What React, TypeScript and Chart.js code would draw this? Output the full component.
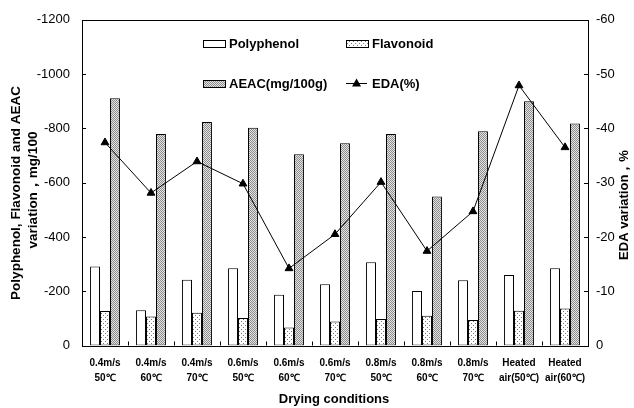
import React, { useEffect, useRef } from "react";
import { Chart, registerables } from "chart.js";

Chart.register(...registerables);

const categories: string[][] = [
  ["0.4m/s", "50℃"],
  ["0.4m/s", "60℃"],
  ["0.4m/s", "70℃"],
  ["0.6m/s", "50℃"],
  ["0.6m/s", "60℃"],
  ["0.6m/s", "70℃"],
  ["0.8m/s", "50℃"],
  ["0.8m/s", "60℃"],
  ["0.8m/s", "70℃"],
  ["Heated", "air(50℃)"],
  ["Heated", "air(60℃)"],
];

const polyphenol = [-291, -130, -242, -285, -187, -226, -307, -201, -240, -260, -285];
const flavonoid = [-127, -107, -121, -101, -66, -88, -98, -110, -94, -128, -136];
const aeac = [-911, -779, -823, -802, -705, -745, -779, -549, -789, -900, -818];
const eda = [-37.4, -28.1, -33.9, -29.8, -14.2, -20.5, -30.1, -17.4, -24.7, -47.9, -36.5];

const leftTicks = { min: -1200, max: 0, step: 200 };
const rightTicks = { min: -60, max: 0, step: 10 };

const FONT = "'Liberation Sans', Arial, sans-serif";

function makePattern(kind: "dots" | "hatch"): CanvasPattern | string {
  const c = document.createElement("canvas");
  const g = c.getContext("2d");
  if (!g) return "#fff";
  if (kind === "dots") {
    c.width = 4;
    c.height = 4;
    g.fillStyle = "#fff";
    g.fillRect(0, 0, 4, 4);
    g.fillStyle = "#777";
    g.fillRect(1, 1, 1, 1);
    g.fillRect(3, 3, 1, 1);
  } else {
    c.width = 2;
    c.height = 2;
    g.fillStyle = "#e4e4e4";
    g.fillRect(0, 0, 2, 2);
    g.fillStyle = "#8c8c8c";
    g.fillRect(0, 0, 1, 1);
    g.fillRect(1, 1, 1, 1);
  }
  const p = g.createPattern(c, "repeat");
  return p || "#ccc";
}

export default function App() {
  const ref = useRef<HTMLCanvasElement | null>(null);

  useEffect(() => {
    if (!ref.current) return;
    const dotPat = makePattern("dots");
    const hatchPat = makePattern("hatch");

    const decor = {
      id: "decor",
      afterDraw(chart: any) {
        const ctx = chart.ctx as CanvasRenderingContext2D;
        const a = chart.chartArea;
        const yL = chart.scales.yL;
        const yR = chart.scales.yR;
        const x = chart.scales.x;
        ctx.save();
        ctx.strokeStyle = "#000";
        ctx.lineWidth = 1;
        ctx.strokeRect(Math.round(a.left) + 0.5, Math.round(a.top) + 0.5, Math.round(a.right - a.left), Math.round(a.bottom - a.top));
        // inward ticks
        ctx.beginPath();
        for (let v = leftTicks.min; v <= leftTicks.max; v += leftTicks.step) {
          const py = Math.round(yL.getPixelForValue(v)) + 0.5;
          ctx.moveTo(a.left, py);
          ctx.lineTo(a.left + 4, py);
        }
        for (let v = rightTicks.min; v <= rightTicks.max; v += rightTicks.step) {
          const py = Math.round(yR.getPixelForValue(v)) + 0.5;
          ctx.moveTo(a.right, py);
          ctx.lineTo(a.right - 4, py);
        }
        for (let i = 0; i < categories.length - 1; i++) {
          const px = Math.round((x.getPixelForValue(i) + x.getPixelForValue(i + 1)) / 2) + 0.5;
          ctx.moveTo(px, a.bottom);
          ctx.lineTo(px, a.bottom - 4);
        }
        ctx.stroke();

        // axis titles
        ctx.fillStyle = "#000";
        ctx.textAlign = "center";
        ctx.textBaseline = "middle";
        ctx.font = `bold 13.5px ${FONT}`;
        ctx.save();
        ctx.translate(16, 193);
        ctx.rotate(-Math.PI / 2);
        ctx.fillText("Polyphenol, Flavonoid and AEAC", 0, 0);
        ctx.restore();
        ctx.save();
        ctx.translate(33, 190);
        ctx.rotate(-Math.PI / 2);
        ctx.fillText("variation，mg/100", 0, 0);
        ctx.restore();
        ctx.font = `bold 13px ${FONT}`;
        ctx.save();
        ctx.translate(624, 205);
        ctx.rotate(-Math.PI / 2);
        ctx.fillText("EDA variation，%", 0, 0);
        ctx.restore();
        ctx.fillText("Drying conditions", 334, 399);

        // legend
        const ds = chart.data.datasets;
        const items = [
          { i: 0, x: 203, y: 43 },
          { i: 1, x: 346, y: 43 },
          { i: 2, x: 203, y: 83 },
          { i: 3, x: 346, y: 83 },
        ];
        ctx.textAlign = "left";
        ctx.font = `bold 13px ${FONT}`;
        for (const it of items) {
          const d = ds[it.i];
          if (d.type === "line") {
            ctx.beginPath();
            ctx.moveTo(it.x, it.y + 0.5);
            ctx.lineTo(it.x + 21, it.y + 0.5);
            ctx.stroke();
            ctx.beginPath();
            const cx = it.x + 10.5;
            ctx.moveTo(cx, it.y - 4.5);
            ctx.lineTo(cx + 4.5, it.y + 3.5);
            ctx.lineTo(cx - 4.5, it.y + 3.5);
            ctx.closePath();
            ctx.fillStyle = "#000";
            ctx.fill();
          } else {
            ctx.fillStyle = d.backgroundColor;
            ctx.fillRect(it.x, it.y - 3, 22, 7);
            ctx.strokeRect(it.x + 0.5, it.y - 2.5, 22, 7);
          }
          ctx.fillStyle = "#000";
          ctx.fillText(d.label, it.x + 26, it.y + 1);
        }
        ctx.restore();
      },
    };

    const barCommon = {
      borderColor: "#000",
      borderWidth: 1,
      borderSkipped: false,
      yAxisID: "yL",
      order: 1,
      categoryPercentage: 0.65,
      barPercentage: 1,
    };

    const chart = new Chart(ref.current, {
      type: "bar",
      data: {
        labels: categories,
        datasets: [
          { ...barCommon, type: "bar", label: "Polyphenol", data: polyphenol, backgroundColor: "#fff" },
          { ...barCommon, type: "bar", label: "Flavonoid", data: flavonoid, backgroundColor: dotPat },
          { ...barCommon, type: "bar", label: "AEAC(mg/100g)", data: aeac, backgroundColor: hatchPat },
          {
            type: "line",
            label: "EDA(%)",
            data: eda,
            yAxisID: "yR",
            order: 0,
            borderColor: "#000",
            borderWidth: 1,
            tension: 0,
            pointStyle: "triangle",
            pointRadius: 4.5,
            pointBackgroundColor: "#000",
            pointBorderColor: "#000",
            pointBorderWidth: 1,
          },
        ] as any,
      },
      options: {
        animation: false,
        responsive: true,
        maintainAspectRatio: false,
        devicePixelRatio: 1,
        layout: { padding: { top: 16, left: 0, right: 0, bottom: 0 } },
        plugins: { legend: { display: false }, tooltip: { enabled: false } },
        scales: {
          x: {
            grid: { display: false, drawTicks: false },
            border: { display: false },
            ticks: {
              color: "#000",
              font: { family: FONT, size: 10, weight: "bold", lineHeight: 1.5 },
              padding: 10,
              maxRotation: 0,
              minRotation: 0,
              autoSkip: false,
            },
            afterFit: (s: any) => {
              s.height = 62.5;
            },
          },
          yL: {
            position: "left",
            reverse: true,
            min: leftTicks.min,
            max: leftTicks.max,
            grid: { display: false, drawTicks: false },
            border: { display: false },
            ticks: {
              stepSize: leftTicks.step,
              color: "#000",
              font: { family: FONT, size: 13 },
              padding: 12,
              callback: (v: any) => String(v),
            },
            afterFit: (s: any) => {
              s.width = 82;
            },
          },
          yR: {
            position: "right",
            reverse: true,
            min: rightTicks.min,
            max: rightTicks.max,
            grid: { display: false, drawTicks: false },
            border: { display: false },
            ticks: {
              stepSize: rightTicks.step,
              color: "#000",
              font: { family: FONT, size: 13 },
              padding: 8,
              callback: (v: any) => String(v),
            },
            afterFit: (s: any) => {
              s.width = 46;
            },
          },
        },
      } as any,
      plugins: [decor],
    });
    return () => chart.destroy();
  }, []);

  return (
    <div style={{ position: "absolute", left: 0, top: 0, width: 634, height: 408, background: "#fff" }}>
      <canvas ref={ref} />
    </div>
  );
}
